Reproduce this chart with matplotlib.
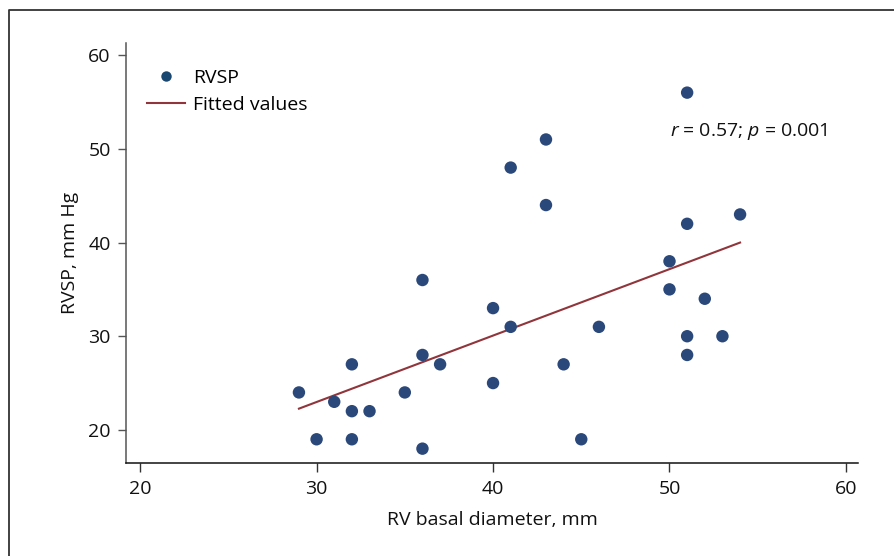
"""
Scatter of RVSP against RV basal diameter with a linear fit.
"""

import numpy as np
import matplotlib.pyplot as plt
from matplotlib.lines import Line2D

# Data
rv_basal_diameter = [29, 30, 31, 32, 32, 32, 33, 35, 36, 36, 36, 37, 40, 40, 41,
                     41, 43, 43, 44, 45, 46, 50, 50, 51, 51, 51, 51, 52, 53, 54]
rvsp = [24, 19, 23, 27, 22, 19, 22, 24, 36, 28, 18, 27, 33, 25, 48,
        31, 51, 44, 27, 19, 31, 38, 35, 56, 42, 30, 28, 34, 30, 43]
x_ticks = [20, 30, 40, 50, 60]
y_ticks = [20, 30, 40, 50, 60]
stats_label = "$r$ = 0.57; $p$ = 0.001"

NAVY = "#1a476f"
POINT = "#2a4879"
MAROON = "#90353b"

plt.rcParams["font.family"] = ["Open Sans", "DejaVu Sans"]
plt.rcParams["mathtext.fontset"] = "custom"
plt.rcParams["mathtext.rm"] = "Open Sans"
plt.rcParams["mathtext.it"] = "Open Sans:italic"


def main():
    x = np.array(rv_basal_diameter, dtype=float)
    y = np.array(rvsp, dtype=float)

    fig = plt.figure(figsize=(8.95, 5.56), dpi=100)
    ax = fig.add_axes([0.1408, 0.1678, 0.959 - 0.1408, 0.9227 - 0.1678])

    ax.scatter(x, y, s=80, color=POINT, edgecolor="none", zorder=3)

    # linear fit across the observed range
    slope, intercept = np.polyfit(x, y, 1)
    xs = np.array([x.min(), x.max()])
    ax.plot(xs, slope * xs + intercept, color=MAROON, lw=1.5, zorder=2)

    ax.set_xlim(19.2, 60.7)
    ax.set_ylim(16.5, 61.3)
    ax.set_xticks(x_ticks)
    ax.set_yticks(y_ticks)

    for side in ["top", "right"]:
        ax.spines[side].set_visible(False)
    ax.spines["left"].set_color("#555555")
    ax.spines["bottom"].set_color("#111111")
    ax.spines["left"].set_linewidth(1.1)
    ax.spines["bottom"].set_linewidth(1.1)
    ax.tick_params(axis="y", colors="#555555", labelcolor="#111111", length=6, width=1.0,
                   labelsize=14, pad=5)
    ax.tick_params(axis="x", colors="#333333", labelcolor="#111111", length=6.5, width=1.0,
                   labelsize=14, pad=6)

    ax.set_xlabel("RV basal diameter, mm", fontsize=14, color="#111111", labelpad=9)
    ax.set_ylabel("RVSP, mm Hg", fontsize=14, color="#111111", labelpad=7)

    handles = [
        Line2D([], [], marker="o", ls="none", markersize=7.5, color=NAVY, markeredgewidth=0),
        Line2D([], [], color=MAROON, lw=1.5),
    ]
    ax.legend(handles, ["RVSP", "Fitted values"], loc="upper left",
              bbox_to_anchor=(0.018, 0.957), frameon=False, fontsize=14,
              handlelength=1.96, handletextpad=0.43, labelspacing=0.46, borderaxespad=0.0)

    ax.text(0.743, 0.79, stats_label, transform=ax.transAxes, fontsize=14,
            color="#111111", ha="left", va="center")

    # outer frame, cut at the right and bottom edges
    fx = 9 / 895
    fy = 1 - 10 / 556
    fig.add_artist(Line2D([fx, fx, 1.0], [0.0, fy, fy], transform=fig.transFigure,
                          color="#333333", lw=1.3))

    fig.savefig("out.png", dpi=100)


if __name__ == "__main__":
    main()
